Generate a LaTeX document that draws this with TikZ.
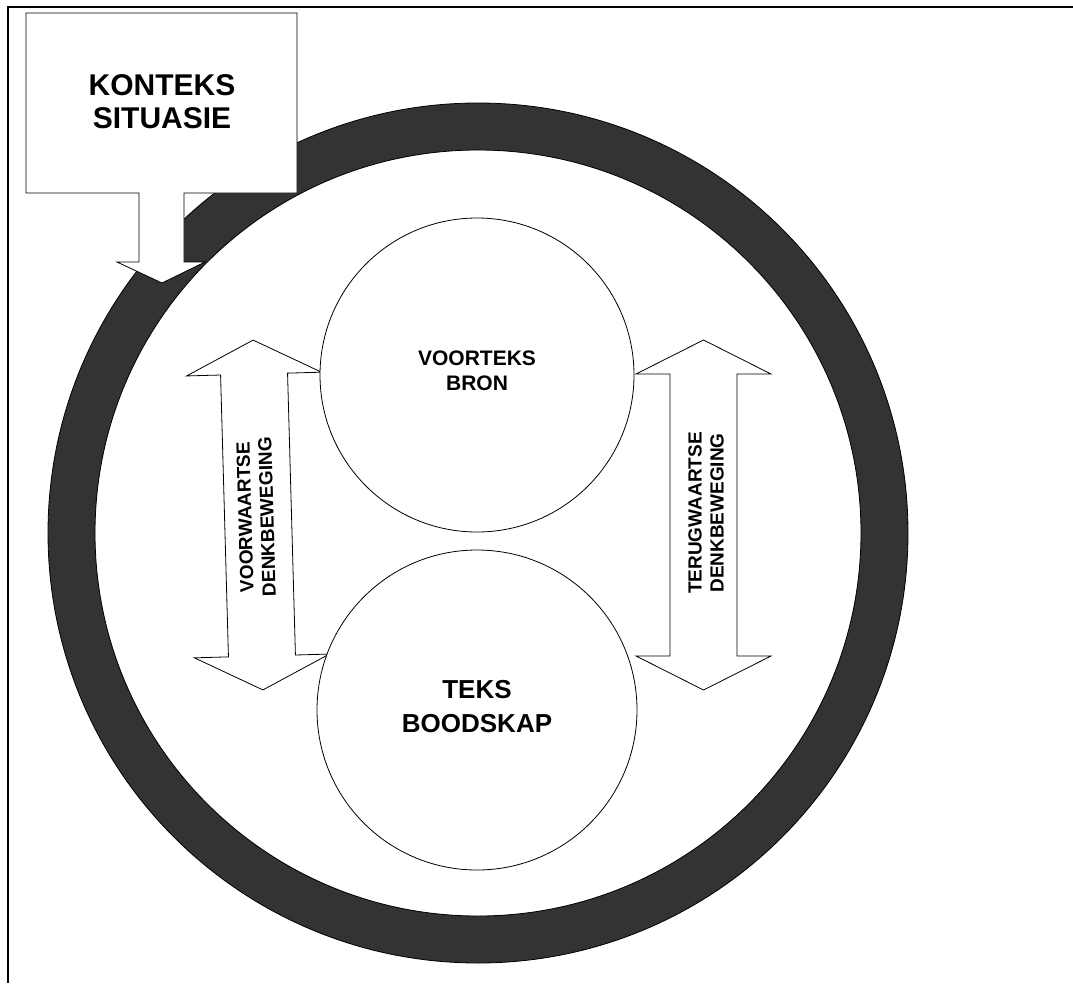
\documentclass[tikz,border=0pt]{standalone}
\usepackage{fontspec}
\setmainfont{Liberation Sans}
\definecolor{ringgrey}{HTML}{333333}

\begin{document}
\begin{tikzpicture}[x=1pt,y=-1pt,line width=0.8pt]
\useasboundingbox (0,0) rectangle (1073,983);
\draw[line width=2] (8,983) -- (8,7) -- (1073,7);
\draw[fill=ringgrey,even odd rule] (478,533) circle (430) (478,533) circle (383);
\draw[fill=white] (26,13) -- (297,13) -- (297,193) -- (184,193) -- (184,262) -- (205,262)
  -- (162,283) -- (117,262) -- (139,262) -- (139,193) -- (26,193) -- cycle;
\node[font=\fontsize{30}{33}\selectfont\bfseries,align=center] (konteks) at (162,102) {KONTEKS\\SITUASIE};
\begin{scope}[shift={(258,515)},rotate=1.6]
\draw[fill=white] (0,-175) -- (67.5,-141) -- (33.5,-141) -- (33.5,141) -- (67.5,141) -- (0,175)
  -- (-67.5,141) -- (-33.5,141) -- (-33.5,-141) -- (-67.5,-141) -- cycle;
\end{scope}
\begin{scope}[shift={(703.5,515)}]
\draw[fill=white] (0,-175) -- (67.5,-141) -- (33.5,-141) -- (33.5,141) -- (67.5,141) -- (0,175)
  -- (-67.5,141) -- (-33.5,141) -- (-33.5,-141) -- (-67.5,-141) -- cycle;
\end{scope}
\draw[fill=white] (477,375) circle (157);
\node[font=\fontsize{21}{25}\selectfont\bfseries,align=center] (voorteks) at (477,371) {VOORTEKS\\BRON};
\draw[fill=white] (477,710) circle (160);
\node[font=\fontsize{26}{34}\selectfont\bfseries,align=center] (teks) at (477,707) {TEKS\\BOODSKAP};
\node[font=\fontsize{19}{22}\selectfont\bfseries,align=center,rotate=91.6] (voorwaarts) at (256,517) {VOORWAARTSE\\DENKBEWEGING};
\node[font=\fontsize{19}{22}\selectfont\bfseries,align=center,rotate=90] (terugwaarts) at (706,513) {TERUGWAARTSE\\DENKBEWEGING};
\end{tikzpicture}
\end{document}
